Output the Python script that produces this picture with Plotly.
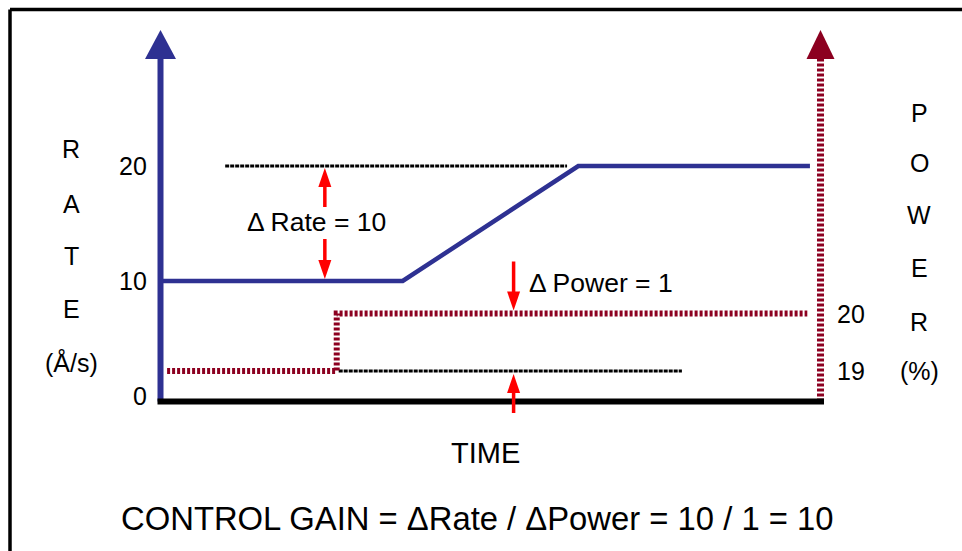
import plotly.graph_objects as go

# ---------------- data ----------------
# deposition rate (Å/s) against time
rate_time = [0, 36.7, 63.3, 98.4]
rate_values = [10, 10, 20, 20]

# source power (%) against time
power_time = [1, 26.7, 26.7, 98.0]
power_values = [19, 19, 20, 20]

rate_ticks = [0, 10, 20]
power_ticks = [19, 20]

# dotted guide lines marking the old / new levels
rate_guide_time = [9.8, 61.6]
rate_guide_level = 20
power_guide_time = [27.0, 79.0]
power_guide_level = 19

# where the delta markers sit along the time axis
delta_rate_time = 24.9
delta_power_time = 53.5

delta_rate = rate_values[-1] - rate_values[0]
delta_power = power_values[-1] - power_values[0]
gain = delta_rate / delta_power

# ---------------- geometry / style ----------------
W, H = 962, 551
T0_PX, T_PX_PER = 160.5, 6.6          # time 0 column, pixels per time unit
T_END = 100                           # time value of the power axis
R0_PX, R_PX_PER = 396.0, 11.5         # rate 0 row, pixels per Å/s
P_REF = power_ticks[-1]
P_REF_PX, P_PX_PER = 313.5, 57.5      # power 20 row, pixels per %
BASE_PX = 401.5                       # time axis row
HEAD_BASE_PX = 59                     # bottom of the axis arrowheads

BLUE = "#2E3192"
MAROON = "#8C0020"
RED = "#FF0000"
FONT = "Liberation Sans, Arial, sans-serif"

x_range = [-T0_PX / T_PX_PER, (W - T0_PX) / T_PX_PER]
y_range = [-(H - R0_PX) / R_PX_PER, R0_PX / R_PX_PER]
y2_range = [P_REF - (H - P_REF_PX) / P_PX_PER, P_REF + P_REF_PX / P_PX_PER]

base_rate = (R0_PX - BASE_PX) / R_PX_PER
top_rate = (R0_PX - HEAD_BASE_PX) / R_PX_PER


def paper(xp, yp):
    return xp / W, 1 - yp / H


fig = go.Figure()

# dotted guides
fig.add_trace(go.Scatter(
    x=rate_guide_time, y=[rate_guide_level] * 2, mode="lines",
    line=dict(color="black", width=3, dash="4px,1px"), hoverinfo="skip"))
fig.add_trace(go.Scatter(
    x=power_guide_time, y=[power_guide_level] * 2, yaxis="y2", mode="lines",
    line=dict(color="black", width=3, dash="4px,1px"), hoverinfo="skip"))

# power step (dotted maroon) and rate response (solid blue)
fig.add_trace(go.Scatter(
    x=power_time, y=power_values, yaxis="y2", mode="lines",
    line=dict(color=MAROON, width=6, dash="3px,2px"), hoverinfo="skip"))
fig.add_trace(go.Scatter(
    x=rate_time, y=rate_values, mode="lines",
    line=dict(color=BLUE, width=4.5), hoverinfo="skip"))

shapes = []

# rate axis with arrowhead
shapes.append(dict(type="line", xref="x", yref="y", x0=0, x1=0,
                   y0=base_rate, y1=top_rate, line=dict(color=BLUE, width=6)))
shapes.append(dict(type="path", xref="x", yref="y", xsizemode="pixel",
                   ysizemode="pixel", xanchor=0, yanchor=top_rate,
                   path="M-15.5,0 L15.5,0 L0,29 Z", fillcolor=BLUE,
                   line=dict(width=0)))
# power axis with arrowhead
shapes.append(dict(type="line", xref="x", yref="y", x0=T_END, x1=T_END,
                   y0=base_rate, y1=top_rate,
                   line=dict(color=MAROON, width=7, dash="3px,2px")))
shapes.append(dict(type="path", xref="x", yref="y", xsizemode="pixel",
                   ysizemode="pixel", xanchor=T_END, yanchor=top_rate,
                   path="M-14,0 L14,0 L0,29 Z", fillcolor=MAROON,
                   line=dict(width=0)))
# time axis
shapes.append(dict(type="line", xref="x", yref="y",
                   x0=-3 / T_PX_PER, x1=T_END + 3.5 / T_PX_PER,
                   y0=base_rate, y1=base_rate,
                   line=dict(color="black", width=6)))


def red_arrow(t, anchor, yref, up, tip_off, length):
    """Red arrow whose tip sits tip_off pixels from the anchor level."""
    s = 1 if up else -1
    head = 19
    shapes.append(dict(type="line", xref="x", yref=yref, ysizemode="pixel",
                       yanchor=anchor, x0=t, x1=t,
                       y0=tip_off - s * 10, y1=tip_off - s * length,
                       line=dict(color=RED, width=3.5)))
    b = tip_off - s * head
    shapes.append(dict(type="path", xref="x", yref=yref, xsizemode="pixel",
                       ysizemode="pixel", xanchor=t, yanchor=anchor,
                       path=f"M0,{tip_off} L-6.5,{b} L6.5,{b} Z",
                       fillcolor=RED, line=dict(width=0)))


red_arrow(delta_rate_time, rate_values[-1], "y", True, -2, 39)
red_arrow(delta_rate_time, rate_values[0], "y", False, 2, 40)
red_arrow(delta_power_time, power_values[-1], "y2", False, 3, 49)
red_arrow(delta_power_time, power_values[0], "y2", True, -3, 39)

# outer frame
fx, fy = paper(10, 9.5)
shapes.append(dict(type="line", xref="paper", yref="paper",
                   x0=fx, x1=1.01, y0=fy, y1=fy,
                   line=dict(color="black", width=3.5)))
shapes.append(dict(type="line", xref="paper", yref="paper",
                   x0=fx, x1=fx, y0=fy, y1=-0.01,
                   line=dict(color="black", width=3.5)))

annotations = []


def text(s, x, y, size, xref="paper", yref="paper", xanchor="center"):
    annotations.append(dict(text=s, x=x, y=y, xref=xref, yref=yref,
                            xanchor=xanchor, yanchor="middle",
                            showarrow=False,
                            font=dict(family=FONT, size=size, color="black")))


# tick labels
for v in rate_ticks:
    text(str(v), -12 / T_PX_PER, v, 25, xref="x", yref="y", xanchor="right")
for v in power_ticks:
    text(str(v), T_END + 14 / T_PX_PER, v, 25, xref="x", yref="y2",
         xanchor="left")

# stacked axis titles
for ch, yp in zip(["R", "A", "T", "E", "(Å/s)"], [149, 204, 256, 309, 362]):
    text(ch, *paper(71, yp), 25)
for ch, yp in zip(["P", "O", "W", "E", "R", "(%)"],
                  [113, 163, 215, 268, 322, 371]):
    text(ch, *paper(919, yp), 25)

text("TIME", *paper(485, 453), 29)

# delta labels
text(f"Δ Rate = {delta_rate}", 23.6, (R0_PX - 221.5) / R_PX_PER, 26.5,
     xref="x", yref="y")
text(f"Δ Power = {delta_power}", 55.5,
     P_REF + (P_REF_PX - 282.5) / P_PX_PER, 26.5, xref="x", yref="y2",
     xanchor="left")

text(f"CONTROL GAIN = ΔRate / ΔPower = {delta_rate} / {delta_power} = {gain:g}",
     *paper(477, 518.5), 32.8)

fig.update_layout(
    width=W, height=H,
    margin=dict(l=0, r=0, t=0, b=0),
    paper_bgcolor="white", plot_bgcolor="white",
    showlegend=False,
    xaxis=dict(range=x_range, visible=False, fixedrange=True),
    yaxis=dict(range=y_range, visible=False, fixedrange=True),
    yaxis2=dict(range=y2_range, visible=False, overlaying="y",
                fixedrange=True),
    shapes=shapes,
    annotations=annotations,
)

fig.write_html("out.html", config={"displayModeBar": False})
